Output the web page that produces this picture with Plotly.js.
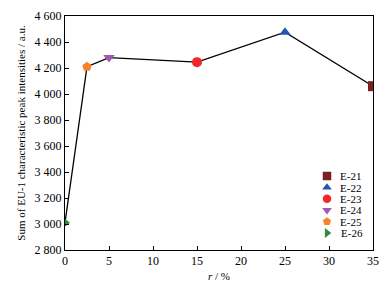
<!DOCTYPE html>
<html>
<head>
<meta charset="utf-8">
<script src="https://cdn.plot.ly/plotly-3.0.1.min.js"></script>
<style>html,body{margin:0;padding:0;background:#fff;}#chart{width:389px;height:286px;}</style>
</head>
<body>
<div id="chart"></div>
<script>
// data
const samples = ["E-21", "E-22", "E-23", "E-24", "E-25", "E-26"];
const rValues = [35, 25, 15, 5, 2.5, 0];
const intensities = [4060, 4475, 4245, 4280, 4210, 3010];
const colors = ["#7a1f24", "#2257b0", "#f0282d", "#a058b2", "#f7842a", "#2e8b3e"];
const symbols = ["square", "triangle-up", "circle", "triangle-down", "pentagon", "triangle-right"];

// line joining points in order of r
const order = rValues.map((v, i) => i).sort((a, b) => rValues[a] - rValues[b]);
const traces = [{
  x: order.map(i => rValues[i]),
  y: order.map(i => intensities[i]),
  mode: "lines",
  line: {color: "#000", width: 1.3},
  showlegend: false,
  hoverinfo: "skip"
}];
samples.forEach((s, i) => {
  traces.push({
    x: [rValues[i]],
    y: [intensities[i]],
    mode: "markers",
    name: s,
    marker: {color: colors[i], symbol: symbols[i], size: 10, line: {width: 0}}
  });
});

const serif = "Liberation Serif, Times New Roman, serif";
const tickFont = {family: serif, size: 12, color: "#000"};
const titleFont = {family: serif, size: 11, color: "#000"};
const layout = {
  width: 389, height: 286,
  margin: {l: 65, r: 16, t: 16, b: 36},
  paper_bgcolor: "#fff", plot_bgcolor: "#fff",
  font: tickFont,
  separators: ". ",
  showlegend: true,
  xaxis: {
    range: [0, 35], tickvals: [0, 5, 10, 15, 20, 25, 30, 35],
    ticks: "inside", ticklen: 4, tickcolor: "#000", tickwidth: 1,
    showline: true, mirror: true, linecolor: "#000", linewidth: 1,
    showgrid: false, zeroline: false, tickfont: tickFont,
    title: {text: "<i>r</i> / %", font: titleFont, standoff: 4}
  },
  yaxis: {
    range: [2800, 4600], dtick: 200, tickformat: ",d",
    ticks: "inside", ticklen: 4, tickcolor: "#000", tickwidth: 1,
    showline: true, mirror: true, linecolor: "#000", linewidth: 1,
    showgrid: false, zeroline: false, tickfont: tickFont,
    title: {text: "Sum of EU-1 characteristic peak intensities / a.u.", font: titleFont, standoff: 6}
  },
  legend: {
    x: 0.7, y: 0.9, xanchor: "left", yanchor: "top",
    bgcolor: "rgba(0,0,0,0)", font: {family: serif, size: 11, color: "#000"},
    tracegroupgap: 0, itemwidth: 30
  }
};
const gd = document.getElementById("chart");
Plotly.newPlot(gd, traces, layout, {displayModeBar: false, staticPlot: true}).then(() => {
  // compact legend spacing and place it as in the reference
  const leg = gd.querySelector("g.legend");
  const items = gd.querySelectorAll(".legend .traces");
  const step = 11.4, targetX = 327, targetY = 176, textGap = 13;
  let y0 = null;
  items.forEach((g, i) => {
    const m = /translate\(([^,]+),\s*([^)]+)\)/.exec(g.getAttribute("transform") || "");
    const x = m ? parseFloat(m[1]) : 0;
    if (y0 === null) y0 = m ? parseFloat(m[2]) : 0;
    g.setAttribute("transform", "translate(" + x + "," + (y0 + i * step) + ")");
    g.querySelectorAll(".legendpoints path").forEach(p => {
      const tr = p.getAttribute("transform") || "";
      p.setAttribute("transform", tr + " scale(0.85)");
    });
  });
  items.forEach(g => {
    const p = g.querySelector(".legendpoints path");
    const t = g.querySelector(".legendtext");
    if (p && t) {
      const pb = p.getBoundingClientRect();
      const tb = t.getBoundingClientRect();
      const cx = pb.left + pb.width / 2;
      const cur = parseFloat(t.getAttribute("x")) || 40;
      t.setAttribute("x", cur - (tb.left - (cx + textGap)));
    }
  });
  const p0 = items[0].querySelector(".legendpoints path").getBoundingClientRect();
  const cx = p0.left + p0.width / 2, cy = p0.top + p0.height / 2;
  const lm = /translate\(([^,]+),\s*([^)]+)\)/.exec(leg.getAttribute("transform") || "");
  const lx = lm ? parseFloat(lm[1]) : 0, ly = lm ? parseFloat(lm[2]) : 0;
  leg.setAttribute("transform", "translate(" + (lx + targetX - cx) + "," + (ly + targetY - cy) + ")");
});
</script>
</body>
</html>
